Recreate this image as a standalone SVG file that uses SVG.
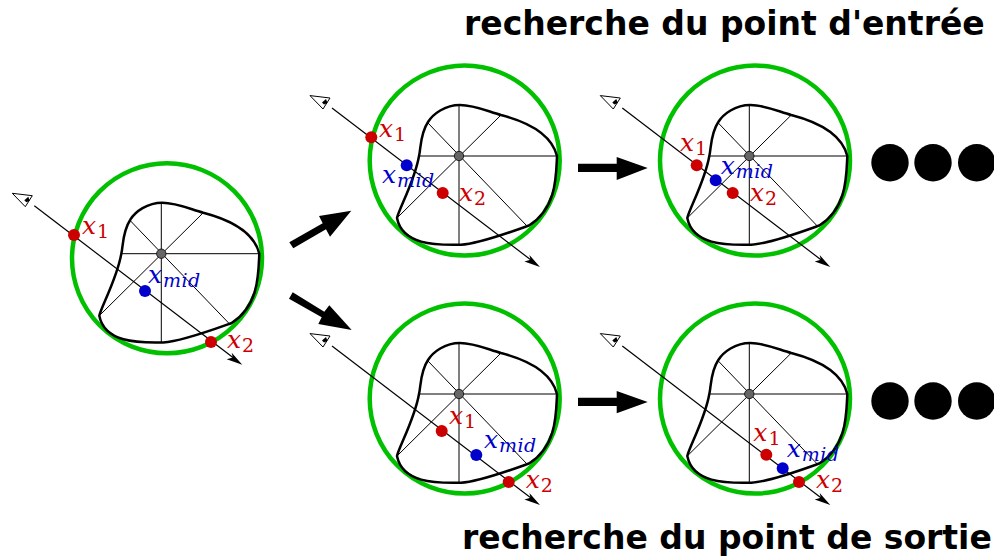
<svg xmlns="http://www.w3.org/2000/svg" width="994" height="559" viewBox="0 0 994 559">
<style>
.ring{fill:none;stroke:#00c000;stroke-width:4.5}
.blob{fill:none;stroke:#000;stroke-width:2.5;stroke-linejoin:round}
.spoke{stroke:#000;stroke-width:1;fill:none}
.ray{stroke:#000;stroke-width:1.2;fill:none}
.hub{fill:#666;stroke:#000;stroke-width:.8}
.r{fill:#cc0000}
.b{fill:#0000cc}
.m{font-family:"DejaVu Serif","Liberation Serif",serif;font-style:italic;font-size:25px}
.s{font-size:19px;letter-spacing:.4px}
.n{font-style:normal}
.lr{fill:#cc0000}
.lb{fill:#0000cc}
.t{font-family:"DejaVu Sans",sans-serif;font-weight:700;font-size:33px;fill:#000}
.dot{fill:#000}
</style>
<defs>
<g id="base">
<circle class="ring" cx="5.7" cy="4.6" r="95"/>
<path class="blob" d="M-40,0C-38,-8-39,-22-31,-34C-26,-42-14,-51 1,-51C15,-51 28,-45 42,-41C65,-35 92,-24 98,0C97,20 98,52 70,69.5C60,73 20,88 2,88.7C-15,88.5-56,92-62,62C-60,53-44,24-40,0Z"/>
<path class="spoke" d="M-40,0H98M0,-51V89M-31,-33L68,70M42,-41L-62,62"/>
<circle class="hub" r="4.7"/>
<path class="ray" d="M-127,-48L72,104"/>
<path d="M81,111L65.4,105.6L71.5,103.7L70.4,99Z"/>
<path d="M-149,-60.4L-129,-58L-136,-47Z" fill="#fff" stroke="#000" stroke-width="1"/>
<path d="M-137,-53.5L-133,-57L-131.5,-53L-135,-51.5Z"/>
</g>
</defs>
<g id="panel-start">
<use href="#base" x="161.3" y="253.7"/>
<circle class="r" cx="74" cy="235" r="6"/><circle class="b" cx="145" cy="291" r="6"/><circle class="r" cx="211" cy="342" r="6"/>
<text class="m lr" x="82" y="234">x<tspan class="s n" dy="4" dx="1">1</tspan></text>
<text class="m lb" x="148" y="283">x<tspan class="s" dy="4" dx="1">mid</tspan></text>
<text class="m lr" x="227" y="348">x<tspan class="s n" dy="4" dx="1">2</tspan></text>
</g>
<g id="panel-entry-1">
<use href="#base" x="459" y="156"/>
<circle class="r" cx="371.3" cy="137.3" r="6"/><circle class="b" cx="406.7" cy="165.3" r="6"/><circle class="r" cx="442.7" cy="193" r="6"/>
<text class="m lr" x="379" y="136.7">x<tspan class="s n" dy="4" dx="1">1</tspan></text>
<text class="m lb" x="382" y="183">x<tspan class="s" dy="4" dx="1">mid</tspan></text>
<text class="m lr" x="459" y="200.7">x<tspan class="s n" dy="4" dx="1">2</tspan></text>
</g>
<g id="panel-entry-2">
<use href="#base" x="749.3" y="156"/>
<circle class="r" cx="696.7" cy="165.3" r="6"/><circle class="b" cx="715.7" cy="180.3" r="6"/><circle class="r" cx="732.7" cy="193" r="6"/>
<text class="m lr" x="680" y="151">x<tspan class="s n" dy="4" dx="1">1</tspan></text>
<text class="m lb" x="720.7" y="174">x<tspan class="s" dy="4" dx="1">mid</tspan></text>
<text class="m lr" x="750" y="200.7">x<tspan class="s n" dy="4" dx="1">2</tspan></text>
</g>
<g id="panel-exit-1">
<use href="#base" x="459" y="394"/>
<circle class="r" cx="441.7" cy="431" r="6"/><circle class="b" cx="476.3" cy="455" r="6"/><circle class="r" cx="508.7" cy="482" r="6"/>
<text class="m lr" x="449" y="424">x<tspan class="s n" dy="4" dx="1">1</tspan></text>
<text class="m lb" x="484" y="448">x<tspan class="s" dy="4" dx="1">mid</tspan></text>
<text class="m lr" x="525.7" y="488">x<tspan class="s n" dy="4" dx="1">2</tspan></text>
</g>
<g id="panel-exit-2">
<use href="#base" x="749.3" y="394"/>
<circle class="r" cx="766.3" cy="454.7" r="6"/><circle class="b" cx="782.7" cy="468.3" r="6"/><circle class="r" cx="799" cy="482" r="6"/>
<text class="m lr" x="753.3" y="440.7">x<tspan class="s n" dy="4" dx="1">1</tspan></text>
<text class="m lb" x="786.7" y="457.3">x<tspan class="s" dy="4" dx="1">mid</tspan></text>
<text class="m lr" x="816" y="488">x<tspan class="s n" dy="4" dx="1">2</tspan></text>
</g>
<g id="connectors">
<path d="M351.3,210.7L319,216L322.7,223.3L289.3,242.3L293.3,248.3L326,229.3L330,236.7Z"/>
<path d="M351.7,330L329.3,305.3L324.3,311.7L292.7,292.3L289,298.7L321.7,317.3L318.3,324Z"/>
<path d="M578,163.7H616.7V157L647.7,168L616.7,180V172H578Z"/>
<path d="M578,397.7H616.7V391L647.7,402L616.7,413.3V406H578Z"/>
</g>
<g id="ellipsis-entry"><circle class="dot" cx="890" cy="162.7" r="18.7"/><circle class="dot" cx="933" cy="162.7" r="18.7"/><circle class="dot" cx="976.7" cy="162.7" r="18.7"/></g>
<g id="ellipsis-exit"><circle class="dot" cx="890" cy="401" r="18.7"/><circle class="dot" cx="933" cy="401" r="18.7"/><circle class="dot" cx="976.7" cy="401" r="18.7"/></g>
<text class="t" x="464" y="35">recherche du point d'entrée</text>
<text class="t" x="462" y="549">recherche du point de sortie</text>
</svg>
